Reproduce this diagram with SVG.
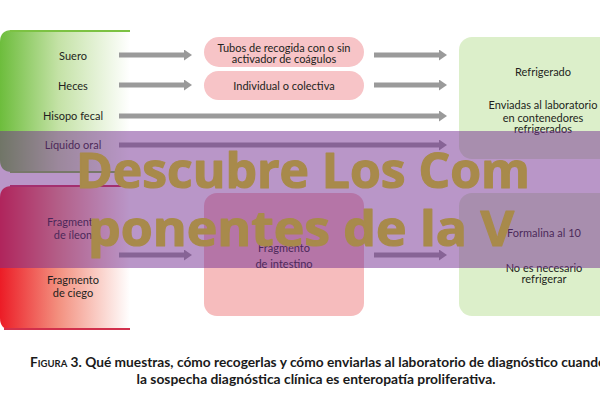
<svg xmlns="http://www.w3.org/2000/svg" width="600" height="400" viewBox="0 0 600 400">
<defs>
<linearGradient id="gGreen" x1="0" y1="0" x2="1" y2="0">
<stop offset="0" stop-color="#6dbd3c"/>
<stop offset="0.45" stop-color="#c4e2a6"/>
<stop offset="1" stop-color="#ffffff"/>
</linearGradient>
<linearGradient id="gRed" x1="0" y1="0" x2="1" y2="0">
<stop offset="0" stop-color="#ec1c26"/>
<stop offset="0.45" stop-color="#f3907f"/>
<stop offset="1" stop-color="#ffffff"/>
</linearGradient>
<marker id="ah" viewBox="0 0 8 11" refX="0" refY="5.5" markerWidth="8" markerHeight="11" markerUnits="userSpaceOnUse" orient="auto">
<path d="M0,0 L8,5.5 L0,11 Z" fill="#9a9a9a"/>
</marker>
</defs>
<style>
.t{font-family:Lato,"Liberation Sans",sans-serif;font-size:11px;fill:#231f20;text-anchor:middle}
.ar{stroke:#9a9a9a;stroke-width:5;fill:none;marker-end:url(#ah)}
.pill{fill:#f7c4c7}
.gbox{fill:#dcefca}
.ov{font-family:"Open Sans","DejaVu Sans",sans-serif;font-weight:bold;font-size:48px;fill:#a88a4b;stroke:#a88a4b;stroke-width:1.2;stroke-linejoin:round}
.cap{font-family:Lato,"Liberation Sans",sans-serif;font-weight:bold;font-size:13px;fill:#1a1a1a;text-anchor:middle}
</style>
<rect width="600" height="400" fill="#ffffff"/>

<g id="samples-top">
<path d="M12,30 H130 V172 H12 Q0,172 0,160 V42 Q0,30 12,30 Z" fill="url(#gGreen)"/>
<line x1="10" y1="31" x2="130" y2="31" stroke="#7cc243" stroke-width="2"/>
<line x1="10" y1="172" x2="130" y2="172" stroke="#7cc243" stroke-width="2"/>
<text class="t" x="73" y="60">Suero</text>
<text class="t" x="73" y="90">Heces</text>
<text class="t" x="73" y="120">Hisopo fecal</text>
<text class="t" x="73" y="149">Líquido oral</text>
</g>

<g id="samples-bottom">
<path d="M12,186 H130 V330 H12 Q0,330 0,318 V198 Q0,186 12,186 Z" fill="url(#gRed)"/>
<line x1="10" y1="186" x2="130" y2="186" stroke="#d2304c" stroke-width="2"/>
<line x1="4" y1="329" x2="130" y2="329" stroke="#d2304c" stroke-width="2"/>
<text class="t" x="73" y="226">Fragmento</text>
<text class="t" x="73" y="239">de íleon</text>
<text class="t" x="73" y="284">Fragmento</text>
<text class="t" x="73" y="297">de ciego</text>
</g>

<g id="tubos">
<rect class="pill" x="204" y="37" width="160" height="30" rx="15"/>
<text class="t" x="284" y="52">Tubos de recogida con o sin</text>
<text class="t" x="284" y="63">activador de coágulos</text>
</g>
<g id="individual">
<rect class="pill" x="204" y="71" width="160" height="29" rx="14.5"/>
<text class="t" x="284" y="90">Individual o colectiva</text>
</g>
<g id="intestino">
<rect x="204" y="193" width="160" height="123" rx="13" fill="#f6bcbd"/>
<text class="t" x="284" y="252">Fragmento</text>
<text class="t" x="284" y="268">de intestino</text>
</g>

<g id="refrigerado">
<rect class="gbox" x="459" y="37" width="160" height="122" rx="13"/>
<text class="t" x="543" y="76">Refrigerado</text>
<text class="t" x="543" y="109">Enviadas al laboratorio</text>
<text class="t" x="543" y="122">en contenedores</text>
<text class="t" x="543" y="133">refrigerados</text>
</g>
<g id="formalina">
<rect class="gbox" x="459" y="193" width="160" height="123" rx="13"/>
<text class="t" x="544" y="237">Formalina al 10</text>
<text class="t" x="544" y="272">No es necesario</text>
<text class="t" x="544" y="283">refrigerar</text>
</g>

<g id="connectors">
<line class="ar" x1="119" y1="55" x2="184" y2="55"/>
<line class="ar" x1="119" y1="85" x2="184" y2="85"/>
<line class="ar" x1="119" y1="116" x2="439" y2="116"/>
<line class="ar" x1="119" y1="145" x2="439" y2="145"/>
<line class="ar" x1="374" y1="55" x2="439" y2="55"/>
<line class="ar" x1="374" y1="85" x2="439" y2="85"/>
<line class="ar" x1="119" y1="255" x2="184" y2="255"/>
<line class="ar" x1="374" y1="255" x2="439" y2="255"/>
</g>

<g id="overlay">
<rect x="0" y="131" width="600" height="137" fill="#732d91" fill-opacity="0.5"/>
<text class="ov" x="76" y="188" textLength="454" lengthAdjust="spacingAndGlyphs">Descubre Los Com</text>
<text class="ov" x="88" y="246" textLength="426" lengthAdjust="spacingAndGlyphs">ponentes de la V</text>
</g>

<g id="caption">
<text class="cap" x="318" y="367" textLength="576" lengthAdjust="spacingAndGlyphs"><tspan font-variant="small-caps">Figura</tspan> 3. Qué muestras, cómo recogerlas y cómo enviarlas al laboratorio de diagnóstico cuando</text>
<text class="cap" x="316" y="384" textLength="359" lengthAdjust="spacingAndGlyphs">la sospecha diagnóstica clínica es enteropatía proliferativa.</text>
</g>
</svg>
